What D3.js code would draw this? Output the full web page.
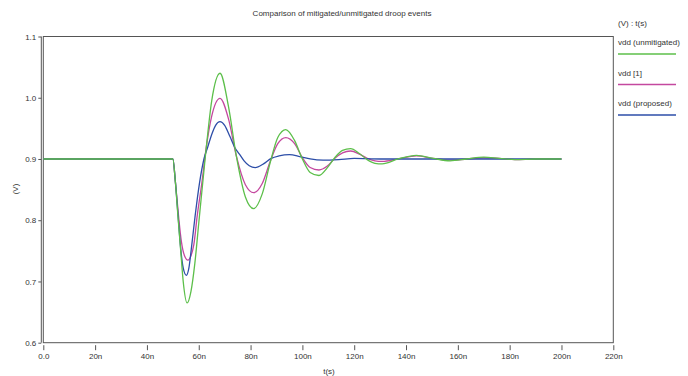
<!DOCTYPE html>
<html>
<head>
<meta charset="utf-8">
<script src="https://cdn.jsdelivr.net/npm/d3@7"></script>
<style>
  body { margin: 0; background: #fff; }
  svg { display: block; font-family: "Liberation Sans", Arial, sans-serif; }
</style>
</head>
<body>
<div id="chart"></div>
<script>
// time axis ticks (ns) and labels
const xTicks = [0, 20, 40, 60, 80, 100, 120, 140, 160, 180, 200, 220];
const xTickLabels = ['0.0', '20n', '40n', '60n', '80n', '100n', '120n', '140n', '160n', '180n', '200n', '220n'];
const yTicks = [0.6, 0.7, 0.8, 0.9, 1.0, 1.1];

// vdd (unmitigated)
const tUnmit = [0, 50, 51, 52, 53, 54, 55.5, 57, 58.5, 60, 62.5, 65, 68.2, 71.5, 74.5, 78, 81.2, 84.5, 87.5, 90.5, 93.6, 97, 100, 103, 106.4, 109.5, 112.5, 115.5, 118.6, 122, 125, 128, 130.8, 137, 144, 150.5, 157, 163.5, 170, 176, 182, 190, 200];
const vUnmit = [0.9, 0.9, 0.861, 0.805, 0.752, 0.700, 0.665, 0.684, 0.730, 0.795, 0.902, 0.995, 1.040, 0.985, 0.905, 0.838, 0.819, 0.843, 0.893, 0.935, 0.948, 0.930, 0.900, 0.878, 0.873, 0.885, 0.902, 0.914, 0.917, 0.909, 0.899, 0.893, 0.892, 0.900, 0.906, 0.901, 0.897, 0.900, 0.903, 0.901, 0.899, 0.900, 0.900];

// vdd [1]
const tRef = [0, 50, 51, 52.2, 53.3, 54.5, 55.8, 57, 58.1, 59.4, 61.2, 62.8, 65, 68.2, 71.5, 74.5, 78, 81.2, 84.5, 87.5, 90.5, 93.6, 97, 100, 103, 106.4, 109.5, 112.5, 115.5, 118.6, 122, 125, 128, 130.8, 137, 144, 150.5, 157, 163.5, 170, 176, 182, 190, 200];
const vRef = [0.9, 0.9, 0.862, 0.807, 0.765, 0.742, 0.735, 0.742, 0.760, 0.807, 0.861, 0.916, 0.970, 0.999, 0.965, 0.905, 0.858, 0.845, 0.860, 0.895, 0.925, 0.935, 0.925, 0.902, 0.886, 0.882, 0.888, 0.901, 0.910, 0.913, 0.908, 0.901, 0.897, 0.896, 0.900, 0.905, 0.901, 0.898, 0.900, 0.902, 0.901, 0.899, 0.900, 0.900];

// vdd (proposed)
const tProp = [0, 50, 51, 52, 53, 54, 55.2, 56.2, 57.1, 58.6, 60.3, 62, 63.5, 65, 66.5, 68.2, 70, 72, 74, 75.7, 77.5, 79.5, 81.8, 85, 88, 91, 95, 99, 103, 108, 114, 120, 130, 200];
const vProp = [0.9, 0.9, 0.862, 0.808, 0.755, 0.722, 0.710, 0.722, 0.752, 0.807, 0.861, 0.900, 0.920, 0.940, 0.955, 0.961, 0.955, 0.937, 0.918, 0.908, 0.897, 0.889, 0.886, 0.892, 0.901, 0.905, 0.907, 0.904, 0.900, 0.898, 0.899, 0.901, 0.900, 0.900];

const seriesNames = ['vdd (unmitigated)', 'vdd [1]', 'vdd (proposed)'];
const seriesColors = ['#5cbf4a', '#c4489f', '#2d4ea8'];

const width = 688, height = 376;
const plot = { left: 43.3, right: 613.3, top: 36.5, bottom: 342.7 };

const svg = d3.select('#chart').append('svg')
  .attr('width', width)
  .attr('height', height);

const x = d3.scaleLinear().domain([0, 220]).range([plot.left, plot.right]);
const y = d3.scaleLinear().domain([0.6, 1.1]).range([plot.bottom, plot.top]);

// Title
svg.append('text')
  .attr('x', 342)
  .attr('y', 16)
  .attr('text-anchor', 'middle')
  .style('font-size', '8px')
  .style('fill', '#333')
  .text('Comparison of mitigated/unmitigated droop events');

// Frame
svg.append('rect')
  .attr('x', plot.left)
  .attr('y', plot.top)
  .attr('width', plot.right - plot.left)
  .attr('height', plot.bottom - plot.top)
  .attr('fill', 'none')
  .attr('stroke', '#555')
  .attr('stroke-width', 1);

// second (axis) line on the left
svg.append('line')
  .attr('x1', plot.left - 2).attr('x2', plot.left - 2)
  .attr('y1', plot.top).attr('y2', plot.bottom)
  .attr('stroke', '#555');

// Y axis
const yAxis = svg.append('g')
  .attr('transform', `translate(${plot.left - 2},0)`)
  .call(d3.axisLeft(y).tickValues(yTicks).tickFormat(d3.format('.1f')).tickSize(3).tickPadding(2));
yAxis.select('.domain').remove();
yAxis.selectAll('line').attr('stroke', '#555');
yAxis.selectAll('text').style('font-size', '8px').style('fill', '#333').style('font-family', '"Liberation Sans", Arial, sans-serif');

// X axis
const xAxis = svg.append('g')
  .attr('transform', `translate(0,${plot.bottom + 2.5})`)
  .call(d3.axisBottom(x).tickValues(xTicks).tickFormat((d, i) => xTickLabels[i]).tickSize(5).tickPadding(3));
xAxis.select('.domain').remove();
xAxis.selectAll('line').attr('stroke', '#555');
xAxis.selectAll('text').style('font-size', '8px').style('fill', '#333').style('font-family', '"Liberation Sans", Arial, sans-serif');

// Axis labels
svg.append('text')
  .attr('x', 329)
  .attr('y', 374)
  .attr('text-anchor', 'middle')
  .style('font-size', '8px')
  .style('fill', '#333')
  .text('t(s)');

svg.append('text')
  .attr('transform', 'translate(18,189) rotate(-90)')
  .attr('text-anchor', 'middle')
  .style('font-size', '8px')
  .style('fill', '#333')
  .text('(V)');

// Lines
const line = d3.line()
  .x(d => x(d[0]))
  .y(d => y(d[1]))
  .curve(d3.curveMonotoneX);

const series = [
  d3.zip(tUnmit, vUnmit),
  d3.zip(tRef, vRef),
  d3.zip(tProp, vProp)
];

// draw order like the reference: [1], proposed, unmitigated on top
[1, 2, 0].forEach(i => {
  svg.append('path')
    .datum(series[i])
    .attr('d', line)
    .attr('fill', 'none')
    .attr('stroke', seriesColors[i])
    .attr('stroke-width', 1.3);
});

// Legend
const legend = svg.append('g').attr('transform', 'translate(618,0)');
legend.append('text')
  .attr('x', 0).attr('y', 26)
  .style('font-size', '8px').style('fill', '#333')
  .text('(V) : t(s)');

seriesNames.forEach((name, i) => {
  const yy = 45 + i * 30.5;
  legend.append('text')
    .attr('x', 0).attr('y', yy)
    .style('font-size', '8px').style('fill', '#333')
    .text(name);
  legend.append('line')
    .attr('x1', 0).attr('x2', 58)
    .attr('y1', yy + 9).attr('y2', yy + 9)
    .attr('stroke', seriesColors[i])
    .attr('stroke-width', 1.3);
});
</script>
</body>
</html>
